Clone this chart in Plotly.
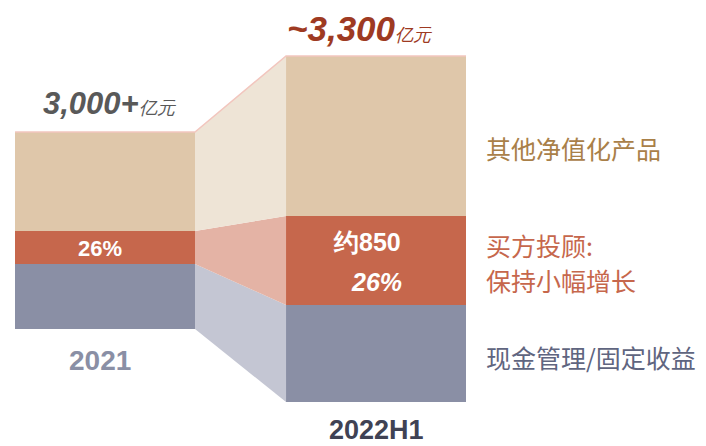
import plotly.graph_objects as go

# ── data (display heights) ──
years = ["2021", "2022H1"]
cash = [65, 97]        # 现金管理/固定收益
advisory = [33, 89]    # 买方投顾
other = [99, 160]      # 其他净值化产品
base = [117, 44]       # floating bottom of each column

segments = [
    ("现金管理/固定收益", cash, "#8A8FA5", "#C4C6D3"),
    ("买方投顾", advisory, "#C6674C", "#E4B3A5"),
    ("其他净值化产品", other, "#DFC7AA", "#EEE4D6"),
]

BAR_W = 0.664
xs = [0, 1]

fig = go.Figure()

# stacked columns with their connecting bands
bottom = list(base)
for name, vals, col, light in segments:
    top = [b + v for b, v in zip(bottom, vals)]
    fig.add_trace(go.Bar(
        x=xs, y=vals, base=bottom, width=BAR_W, name=name,
        marker=dict(color=col, line=dict(width=0)), showlegend=False,
    ))
    x0 = xs[0] + BAR_W / 2
    x1 = xs[1] - BAR_W / 2
    fig.add_trace(go.Scatter(
        x=[x0, x1, x1, x0, x0],
        y=[bottom[0], bottom[1], top[1], top[0], bottom[0]],
        fill="toself", fillcolor=light, mode="lines",
        line=dict(width=0), hoverinfo="skip", showlegend=False,
    ))
    bottom = top

# thin pink outline along the top
l0, r0 = xs[0] - BAR_W / 2, xs[0] + BAR_W / 2
l1, r1 = xs[1] - BAR_W / 2, xs[1] + BAR_W / 2
fig.add_trace(go.Scatter(
    x=[l0, r0, l1, r1], y=[bottom[0], bottom[0], bottom[1], bottom[1]],
    mode="lines", line=dict(color="#F2C6BE", width=1.5),
    hoverinfo="skip", showlegend=False,
))

LAT = "Liberation Sans, Arial, sans-serif"
CJK = "Noto Sans CJK SC, sans-serif"


def ann(x, y, text, size, color, family=LAT, xanchor="center"):
    fig.add_annotation(x=x, y=y, text=text, showarrow=False, xanchor=xanchor,
                       yanchor="middle", font=dict(size=size, color=color, family=family))


# totals
ann(0.02, 343, "<b><i>3,000+</i></b><span style='font-size:18px'><i>亿元</i></span>", 31, "#595959")
ann(0.94, 418, "<b><i>~3,300</i></b><span style='font-size:18px'><i>亿元</i></span>", 35, "#9E3A22")

# inside labels
ann(-0.02, 198, "<b>26%</b>", 22, "#FFFFFF")
ann(0.965, 204, "<b>约850</b>", 25, "#FFFFFF")
ann(1.003, 164, "<b><i>26%</i></b>", 25, "#FFFFFF")

# category labels
ann(-0.02, 86, "<b>2021</b>", 28, "#8A8FA5")
ann(1.0, 16, "<b>2022H1</b>", 27, "#3F4254")

# right legend text
lx = 1.4
ann(lx, 298, "其他净值化产品", 25, "#A98048", CJK, "left")
ann(lx, 201, "买方投顾:", 25, "#C6674C", CJK, "left")
ann(lx, 166, "保持小幅增长", 25, "#C6674C", CJK, "left")
ann(lx, 89, "现金管理/固定收益", 25, "#5F6580", CJK, "left")

fig.update_layout(
    width=706, height=446,
    margin=dict(l=0, r=0, t=0, b=0),
    paper_bgcolor="#FFFFFF", plot_bgcolor="#FFFFFF",
    barmode="overlay", bargap=0,
    # ranges shifted to compensate for the page's 8px body margin
    xaxis=dict(range=[-0.358, 2.247], visible=False, fixedrange=True),
    yaxis=dict(range=[-8, 438], visible=False, fixedrange=True),
)

fig.write_html("out.html", config={"displayModeBar": False})
